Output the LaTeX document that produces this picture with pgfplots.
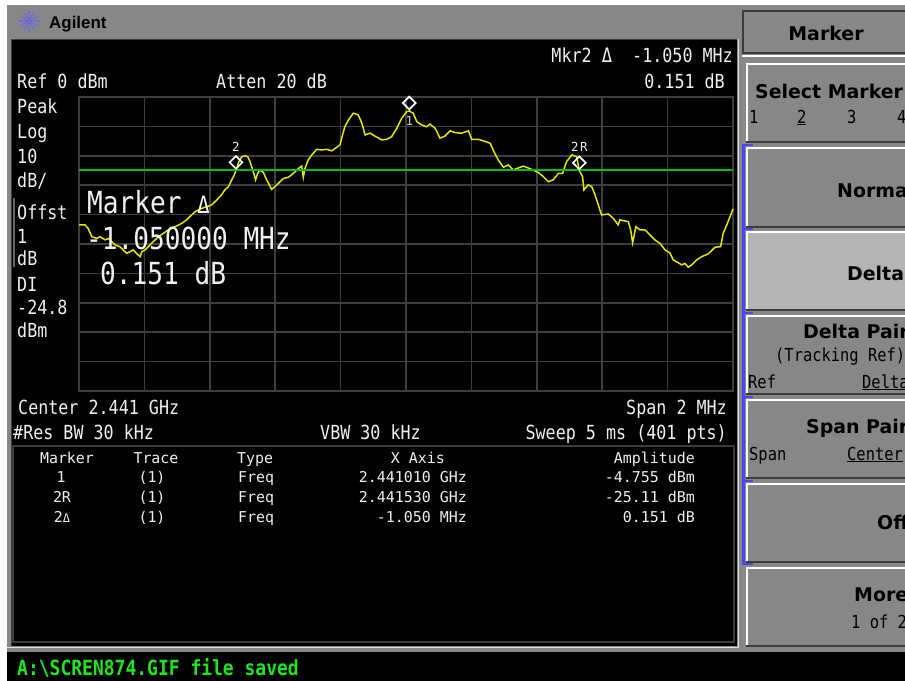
\documentclass[border=0pt]{standalone}
\usepackage{fontspec}
\usepackage{pgfplots}
\pgfplotsset{compat=1.18}
\newfontfamily\inst{DejaVu Sans Mono}[FakeStretch=0.86]
\newfontfamily\instw{DejaVu Sans Mono}
\newfontfamily\keyf{DejaVu Sans}
\newfontfamily\agf{Liberation Sans}
\definecolor{fr}{HTML}{878787}
\definecolor{lt}{HTML}{B4B4B4}
\definecolor{dk}{HTML}{3C3C3C}
\definecolor{grd}{HTML}{3E3E3E}
\definecolor{tr}{HTML}{E6E600}
\definecolor{dl}{HTML}{00C000}
\definecolor{bl}{HTML}{4646FF}
\definecolor{wt}{HTML}{F0F0F0}
\definecolor{stg}{HTML}{1EE61E}
\newcommand\hf{\inst\fontsize{19.5}{20}\selectfont}
\newcommand\bigf{\inst\fontsize{30.5}{32}\selectfont}
\newcommand\tf{\instw\fontsize{15}{16}\selectfont}
\newcommand\kf{\keyf\bfseries\fontsize{19}{20}\selectfont}
\newcommand\sk{\inst\fontsize{18}{19}\selectfont}
\newcommand\lab{\instw\fontsize{12.5}{13}\selectfont}
\newcommand\btn[3]{%
  \fill[#3] (746,#1) rectangle (905,#2);
  \draw[white, line width=2] (747,#2) -- (747,#1+1) -- (905,#1+1);
  \draw[dk, line width=2] (746,#2-1) -- (905,#2-1);}
\begin{document}
\begin{tikzpicture}
\useasboundingbox (0,0) rectangle (905bp,-681bp);
\clip (0,0) rectangle (905bp,-681bp);
\fill[white] (0,0) rectangle (905bp,-681bp);
\begin{scope}[x=1bp,y=-1bp]
\fill[fr] (7,5) rectangle (905,681);
% logo
\foreach \a in {0,30,...,330} \draw[bl!85, line width=1.3, dash pattern=on 1.3 off 1.2] (29,21) -- ++(\a:10);
\node[anchor=base west, inner sep=0, font=\agf\bfseries\fontsize{17}{18}\selectfont] at (49,28) {Agilent};
% screen
\fill[black] (12,40) rectangle (737,646);
\draw[dk, line width=1.5] (11.25,646) -- (11.25,39.25) -- (737,39.25);
\draw[white!88!black, line width=2] (738.5,39) -- (738.5,647.5) -- (7,647.5);
% status bar
\fill[black] (7,652) rectangle (905,681);
\node[anchor=base west, inner sep=0, text=stg, font=\inst\bfseries\fontsize{21}{22}\selectfont] at (17,675) {A:\textbackslash SCREN874.GIF file saved};
% header texts
\begin{scope}[every node/.style={inner sep=0, text=wt, font=\hf}]
\node[anchor=base west] at (17,88) {Ref 0 dBm};
\node[anchor=base west] at (216,88) {Atten 20 dB};
\node[anchor=base east] at (733,62) {Mkr2 {\fontsize{20}{20}\selectfont Δ}\ \ -1.050 MHz};
\node[anchor=base east] at (725,88) {0.151 dB};
\node[anchor=base west] at (17,113) {Peak};
\node[anchor=base west] at (17,138) {Log};
\node[anchor=base west] at (17,163) {10};
\node[anchor=base west] at (17,187) {dB/};
\node[anchor=base west] at (17,219) {Offst};
\node[anchor=base west] at (17,243) {1};
\node[anchor=base west] at (17,265) {dB};
\node[anchor=base west] at (17,291) {DI};
\node[anchor=base west] at (17,314) {-24.8};
\node[anchor=base west] at (17,337) {dBm};
\node[anchor=base west] at (18,414) {Center 2.441 GHz};
\node[anchor=base west] at (13,439) {\#Res BW 30 kHz};
\node[anchor=base west] at (320,439) {VBW 30 kHz};
\node[anchor=base east] at (727,414) {Span 2 MHz};
\node[anchor=base east] at (727,439) {Sweep 5 ms (401 pts)};
\end{scope}
\draw[white!40!black, line width=1.5] (14,198) -- (14,267);
% marker table
\draw[dk, line width=2] (13,446) rectangle (734,642);
\begin{scope}[every node/.style={inner sep=0, text=wt, font=\tf}]
\node[anchor=base] at (67,463) {Marker};
\node[anchor=base] at (156,463) {Trace};
\node[anchor=base west] at (237,463) {Type};
\node[anchor=base east] at (445,463) {X Axis};
\node[anchor=base east] at (695,463) {Amplitude};
\node[anchor=base] at (61,482) {1};
\node[anchor=base] at (62,502) {2R};
\node[anchor=base] at (62,522) {2{\fontsize{12}{12}\selectfont Δ}};
\node[anchor=base] at (152,482) {(1)};
\node[anchor=base] at (152,502) {(1)};
\node[anchor=base] at (152,522) {(1)};
\node[anchor=base west] at (238,482) {Freq};
\node[anchor=base west] at (238,502) {Freq};
\node[anchor=base west] at (238,522) {Freq};
\node[anchor=base east] at (467,482) {2.441010 GHz};
\node[anchor=base east] at (467,502) {2.441530 GHz};
\node[anchor=base east] at (467,522) {-1.050 MHz};
\node[anchor=base east] at (695,482) {-4.755 dBm};
\node[anchor=base east] at (695,502) {-25.11 dBm};
\node[anchor=base east] at (695,522) {0.151 dB};
\end{scope}
% soft keys
\fill[fr] (743,11) rectangle (905,54);
\draw[dk, line width=2] (905,11) -- (743,11) -- (743,53) -- (905,53);
\draw[white, line width=2] (742,56) -- (905,56);
\btn{63}{143}{fr}
\btn{147}{228}{fr}
\btn{231}{311}{lt}
\btn{315}{395}{fr}
\btn{399}{479}{fr}
\btn{483}{563}{fr}
\btn{567}{647}{fr}
\draw[bl, line width=3.5] (743.5,145) -- (743.5,565);
\foreach \y in {145,229,313,397,481,564} \draw[bl, line width=2.5] (742,\y) -- (753,\y);
\begin{scope}[every node/.style={inner sep=0, text=black}]
\node[anchor=base, font=\kf] at (826,40) {Marker};
\node[anchor=base west, font=\kf] at (755,98) {Select Marker};
\node[anchor=base west, font=\sk] at (749,123) {1};
\node[anchor=base west, font=\sk] at (797,123) {\underline{2}};
\node[anchor=base west, font=\sk] at (847,123) {3};
\node[anchor=base west, font=\sk] at (897,123) {4};
\node[anchor=base west, font=\kf] at (837,197) {Normal};
\node[anchor=base west, font=\kf] at (847,280) {Delta};
\node[anchor=base west, font=\kf] at (803,338) {Delta Pair};
\node[anchor=base west, font=\sk] at (775,361) {(Tracking Ref)};
\node[anchor=base west, font=\sk] at (748,388) {Ref};
\node[anchor=base west, font=\sk] at (862,388) {\underline{Delta}};
\node[anchor=base west, font=\kf] at (806,433) {Span Pair};
\node[anchor=base west, font=\sk] at (749,460) {Span};
\node[anchor=base west, font=\sk] at (847,460) {\underline{Center}};
\node[anchor=base west, font=\kf] at (877,529) {Off};
\node[anchor=base west, font=\kf] at (854,601) {More};
\node[anchor=base west, font=\sk] at (851,628) {1 of 2};
\end{scope}
\end{scope}

\begin{axis}[at={(79bp,-391bp)}, anchor=south west, scale only axis,
  width=654bp, height=294bp, xmin=-1, xmax=1, ymin=-100, ymax=0,
  xtick={-0.8,-0.6,-0.4,-0.2,0,0.2,0.4,0.6,0.8},
  ytick={-90,-80,-70,-60,-50,-40,-30,-20,-10},
  xticklabel={}, yticklabel={}, major tick length=0pt, tick style={draw=none},
  grid=major, grid style={grd, line width=1.5bp},
  axis line style={grd, line width=1.5bp}, clip=false]
\addplot[tr, line width=1.5bp] table {
x y
-1.000 -43.5
-0.982 -43.5
-0.972 -44.7
-0.961 -47.5
-0.946 -48.1
-0.936 -47.5
-0.920 -48.6
-0.910 -48.1
-0.900 -49.2
-0.890 -50.3
-0.875 -50.9
-0.865 -52.0
-0.854 -53.2
-0.844 -52.6
-0.834 -52.0
-0.824 -53.2
-0.813 -54.3
-0.808 -52.6
-0.798 -52.0
-0.788 -50.9
-0.773 -49.2
-0.757 -47.5
-0.742 -46.4
-0.727 -45.2
-0.706 -44.1
-0.686 -43.0
-0.671 -41.8
-0.661 -40.7
-0.645 -39.0
-0.625 -37.9
-0.609 -37.3
-0.594 -36.7
-0.584 -35.6
-0.574 -34.5
-0.564 -33.3
-0.554 -31.6
-0.543 -30.5
-0.533 -28.2
-0.525 -26.5
-0.520 -24.96
-0.511 -22.0
-0.502 -20.3
-0.492 -20.0
-0.484 -20.3
-0.477 -22.0
-0.467 -25.4
-0.460 -28.2
-0.454 -26.0
-0.446 -24.8
-0.436 -25.7
-0.426 -28.2
-0.411 -31.4
-0.401 -30.5
-0.385 -28.8
-0.375 -27.7
-0.360 -27.3
-0.350 -26.5
-0.339 -25.4
-0.329 -24.3
-0.319 -23.5
-0.314 -27.3
-0.309 -24.3
-0.299 -21.4
-0.288 -19.7
-0.273 -17.8
-0.258 -18.0
-0.243 -17.8
-0.227 -18.3
-0.212 -17.1
-0.202 -16.3
-0.194 -12.9
-0.187 -10.1
-0.176 -7.8
-0.161 -5.5
-0.146 -6.1
-0.135 -8.9
-0.125 -12.9
-0.110 -12.3
-0.095 -13.3
-0.074 -14.6
-0.059 -14.4
-0.044 -13.5
-0.028 -10.6
-0.013 -7.2
0.002 -5.0
0.010 -4.755
0.022 -5.5
0.033 -8.4
0.048 -9.5
0.063 -10.1
0.073 -9.2
0.089 -10.6
0.104 -14.0
0.119 -13.3
0.135 -11.5
0.150 -12.1
0.170 -12.3
0.191 -11.5
0.201 -14.4
0.221 -14.4
0.236 -14.9
0.257 -15.7
0.269 -18.6
0.282 -21.4
0.298 -23.9
0.313 -23.1
0.328 -24.8
0.349 -23.9
0.359 -23.5
0.384 -24.6
0.405 -25.7
0.420 -27.1
0.435 -28.8
0.450 -28.2
0.466 -26.0
0.479 -26.0
0.491 -22.0
0.507 -19.7
0.522 -20.3
0.530 -25.11
0.540 -27.1
0.544 -31.6
0.557 -29.9
0.568 -30.5
0.578 -33.3
0.588 -36.7
0.598 -40.1
0.619 -39.8
0.634 -41.3
0.649 -43.5
0.654 -41.8
0.680 -42.4
0.687 -45.2
0.693 -49.6
0.703 -44.1
0.716 -45.2
0.731 -45.2
0.746 -46.9
0.761 -48.6
0.777 -49.8
0.792 -52.0
0.807 -53.0
0.817 -55.4
0.833 -56.4
0.843 -57.1
0.853 -56.6
0.863 -57.9
0.874 -57.1
0.889 -55.4
0.904 -54.3
0.924 -53.4
0.945 -51.1
0.962 -50.9
0.970 -46.4
0.981 -43.5
0.993 -40.1
1.000 -38.1
};
\addplot[dl, line width=1.5bp] coordinates {(-1,-24.8) (1,-24.8)};
\addplot[only marks, mark=square, mark size=4.5bp,
  mark options={yshift=8bp, rotate=45, draw=white, fill=black, line width=1.7bp},
  nodes near coords={2}, nodes near coords style={anchor=center, yshift=15.5bp, inner sep=0, text=wt, font=\lab}]
  coordinates {(-0.52,-24.96)};
\addplot[only marks, mark=square, mark size=4.5bp,
  mark options={yshift=8bp, rotate=45, draw=white, fill=black, line width=1.7bp},
  nodes near coords={2\kern1.5bp R}, nodes near coords style={anchor=center, yshift=16bp, inner sep=0, text=wt, font=\lab}]
  coordinates {(0.53,-25.11)};
\addplot[only marks, mark=square, mark size=4.5bp,
  mark options={yshift=8bp, rotate=45, draw=white, fill=black, line width=1.7bp},
  nodes near coords={1}, nodes near coords style={anchor=center, yshift=-17.5bp, inner sep=0, text=white!80!black, font=\lab}]
  coordinates {(0.01,-4.755)};
\end{axis}

\begin{scope}[x=1bp,y=-1bp, every node/.style={inner sep=0, text=wt, font=\bigf}]
\node[anchor=base west] at (87,213) {Marker {\fontsize{24}{24}\selectfont Δ}};
\node[anchor=base west] at (86,249) {-1.050000 MHz};
\node[anchor=base west] at (100,284) {0.151 dB};
\end{scope}
\end{tikzpicture}
\end{document}
